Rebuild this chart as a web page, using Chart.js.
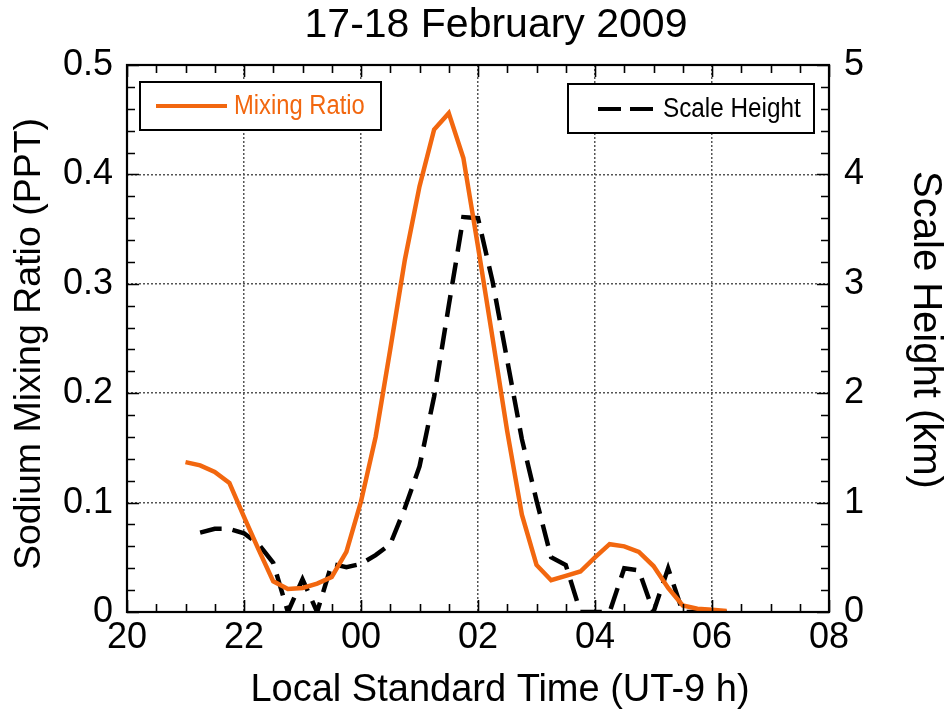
<!DOCTYPE html>
<html>
<head>
<meta charset="utf-8">
<script src="https://cdn.jsdelivr.net/npm/chart.js@4.4.1/dist/chart.umd.min.js"></script>
<style>
html,body{margin:0;padding:0;background:#fff;}
canvas{display:block;}
</style>
</head>
<body>
<canvas id="c" width="947" height="711"></canvas>
<script>
// ---- data (hours after midnight of 17 Feb; 24 = 00 LST on 18 Feb) ----
const mixTimes = [21.00,21.25,21.50,21.75,22.00,22.25,22.50,22.75,23.00,23.25,23.50,23.75,
  24.00,24.25,24.50,24.75,25.00,25.25,25.50,25.75,26.00,26.25,26.50,26.75,27.00,27.25,27.50,27.75,
  28.00,28.25,28.50,28.75,29.00,29.25,29.50,29.75,30.00,30.25];
const mixRatio = [0.137,0.134,0.128,0.118,0.087,0.057,0.028,0.021,0.022,0.026,0.032,0.055,
  0.101,0.160,0.240,0.322,0.389,0.441,0.456,0.415,0.334,0.250,0.165,0.089,0.043,0.029,0.033,0.037,
  0.050,0.062,0.060,0.055,0.042,0.022,0.006,0.003,0.002,0.001];
const shTimes = [21.25,21.50,21.75,22.00,22.25,22.50,22.75,23.00,23.25,23.50,23.75,
  24.00,24.25,24.50,24.75,25.00,25.25,25.50,25.75,26.00,26.25,26.50,26.75,27.00,27.25,27.50,27.75,
  28.00,28.25,28.50,28.75,29.00,29.25,29.50,29.75,30.00,30.25];
const scaleHeight = [0.725,0.76,0.76,0.72,0.62,0.45,0.0,0.30,0.0,0.44,0.41,
  0.44,0.52,0.62,0.95,1.33,1.97,2.80,3.61,3.60,3.02,2.30,1.58,1.02,0.50,0.43,0.0,
  0.0,0.0,0.40,0.38,0.0,0.40,0.0,0.0,0.0,0.0];
const xTickValues = [20,22,24,26,28,30,32];
const xTickLabels = ['20','22','00','02','04','06','08'];
const titleText = '17-18 February 2009';
const xTitle = 'Local Standard Time (UT-9 h)';
const yTitle = 'Sodium Mixing Ratio (PPT)';
const y2Title = 'Scale Height (km)';
const seriesNames = ['Mixing Ratio','Scale Height'];

const ORANGE = '#f2670f';
const FONT = "'Liberation Sans', Arial, sans-serif";

const frameTicks = {
  id: 'frameTicks',
  afterDatasetsDraw(chart) {
    const {ctx, chartArea: a, scales} = chart;
    const x = scales.x, y = scales.y;
    ctx.save();
    ctx.strokeStyle = '#000';
    ctx.lineWidth = 1.6;
    ctx.beginPath();
    for (let v = 20; v <= 32.001; v += 0.5) {
      const px = Math.round(x.getPixelForValue(v)) + 0.5;
      const major = Math.abs(v / 2 - Math.round(v / 2)) < 1e-6;
      const L = major ? 12 : 8;
      ctx.moveTo(px, a.bottom); ctx.lineTo(px, a.bottom - L);
      ctx.moveTo(px, a.top); ctx.lineTo(px, a.top + L);
    }
    for (let i = 0; i <= 25; i++) {
      const v = i * 0.02;
      const py = Math.round(y.getPixelForValue(v)) + 0.5;
      const L = (i % 5 === 0) ? 12 : 8;
      ctx.moveTo(a.left, py); ctx.lineTo(a.left + L, py);
      ctx.moveTo(a.right, py); ctx.lineTo(a.right - L, py);
    }
    ctx.stroke();
    ctx.lineWidth = 2.2;
    ctx.strokeRect(a.left, a.top, a.right - a.left, a.bottom - a.top);
    ctx.restore();
  }
};

const titles = {
  id: 'titles',
  afterDraw(chart) {
    const ctx = chart.ctx;
    ctx.save();
    ctx.fillStyle = '#000';
    ctx.textAlign = 'center';
    ctx.textBaseline = 'alphabetic';
    ctx.font = '41px ' + FONT;
    ctx.fillText(titleText, 496, 37);
    ctx.font = '38px ' + FONT;
    ctx.fillText(xTitle, 500, 701);
    ctx.textBaseline = 'middle';
    ctx.save(); ctx.translate(30, 344); ctx.rotate(-Math.PI / 2);
    ctx.font = '37.5px ' + FONT; ctx.fillText(yTitle, 0, 0); ctx.restore();
    ctx.save(); ctx.translate(925, 330); ctx.rotate(Math.PI / 2);
    ctx.font = '40px ' + FONT; ctx.fillText(y2Title, 0, 0); ctx.restore();
    ctx.restore();
  }
};

const boxLegend = {
  id: 'boxLegend',
  afterDraw(chart) {
    const ctx = chart.ctx;
    const ds = chart.data.datasets;
    ctx.save();
    // box 1
    ctx.fillStyle = '#fff';
    ctx.fillRect(140, 82, 241, 48);
    ctx.strokeStyle = '#000'; ctx.lineWidth = 2;
    ctx.strokeRect(140, 82, 241, 48);
    ctx.strokeStyle = ds[0].borderColor; ctx.lineWidth = 4; ctx.setLineDash([]);
    ctx.beginPath(); ctx.moveTo(156, 106); ctx.lineTo(227, 106); ctx.stroke();
    ctx.font = "27px " + FONT; ctx.textBaseline = 'middle'; ctx.textAlign = 'left';
    ctx.fillStyle = ds[0].borderColor;
    ctx.save(); ctx.translate(234, 107); ctx.scale(0.88, 1); ctx.fillText(ds[0].label, 0, 0); ctx.restore();
    // box 2
    ctx.fillStyle = '#fff';
    ctx.fillRect(568, 84, 246, 49);
    ctx.strokeStyle = '#000'; ctx.lineWidth = 2;
    ctx.strokeRect(568, 84, 246, 49);
    ctx.lineWidth = 4;
    ctx.beginPath(); ctx.moveTo(598, 109); ctx.lineTo(621, 109); ctx.moveTo(630, 109); ctx.lineTo(653, 109); ctx.stroke();
    ctx.fillStyle = '#000';
    ctx.save(); ctx.translate(663, 110); ctx.scale(0.9, 1); ctx.fillText(ds[1].label, 0, 0); ctx.restore();
    ctx.restore();
  }
};

const tickFont = {size: 36, family: FONT};

new Chart(document.getElementById('c').getContext('2d'), {
  type: 'line',
  data: {
    datasets: [
      {label: seriesNames[0], data: mixTimes.map((t, i) => ({x: t, y: mixRatio[i]})), yAxisID: 'y',
       borderColor: ORANGE, backgroundColor: ORANGE, borderWidth: 4.5, pointRadius: 0, tension: 0, fill: false},
      {label: seriesNames[1], data: shTimes.map((t, i) => ({x: t, y: scaleHeight[i]})), yAxisID: 'y2',
       borderColor: '#000', backgroundColor: '#000', borderWidth: 4.5, borderDash: [22, 11], pointRadius: 0, tension: 0, fill: false}
    ]
  },
  options: {
    responsive: false, animation: false, devicePixelRatio: 1,
    layout: {padding: {top: 65}},
    plugins: {
      legend: {display: false}, tooltip: {enabled: false}, title: {display: false}
    },
    scales: {
      x: {
        type: 'linear', min: 20, max: 32,
        afterBuildTicks(s) { s.ticks = xTickValues.map(v => ({value: v})); },
        ticks: {color: '#000', font: tickFont, padding: 4, maxRotation: 0, autoSkip: false,
          callback: (v) => xTickLabels[xTickValues.indexOf(v)]},
        grid: {color: '#555', lineWidth: 1.5, drawTicks: false},
        border: {display: false, dash: [2, 2]},
        title: {display: false},
        afterFit(s) { s.height = 99; }
      },
      y: {
        position: 'left', min: 0, max: 0.5,
        ticks: {stepSize: 0.1, color: '#000', font: tickFont, padding: 14,
          callback: (v) => (Math.round(v * 10) / 10).toString()},
        grid: {color: '#555', lineWidth: 1.5, drawTicks: false},
        border: {display: false, dash: [2, 2]},
        title: {display: false},
        afterFit(s) { s.width = 127; }
      },
      y2: {
        position: 'right', min: 0, max: 5,
        ticks: {stepSize: 1, color: '#000', font: tickFont, padding: 15},
        grid: {drawOnChartArea: false, drawTicks: false},
        border: {display: false},
        title: {display: false},
        afterFit(s) { s.width = 118; }
      }
    }
  },
  plugins: [frameTicks, boxLegend, titles]
});
</script>
</body>
</html>
